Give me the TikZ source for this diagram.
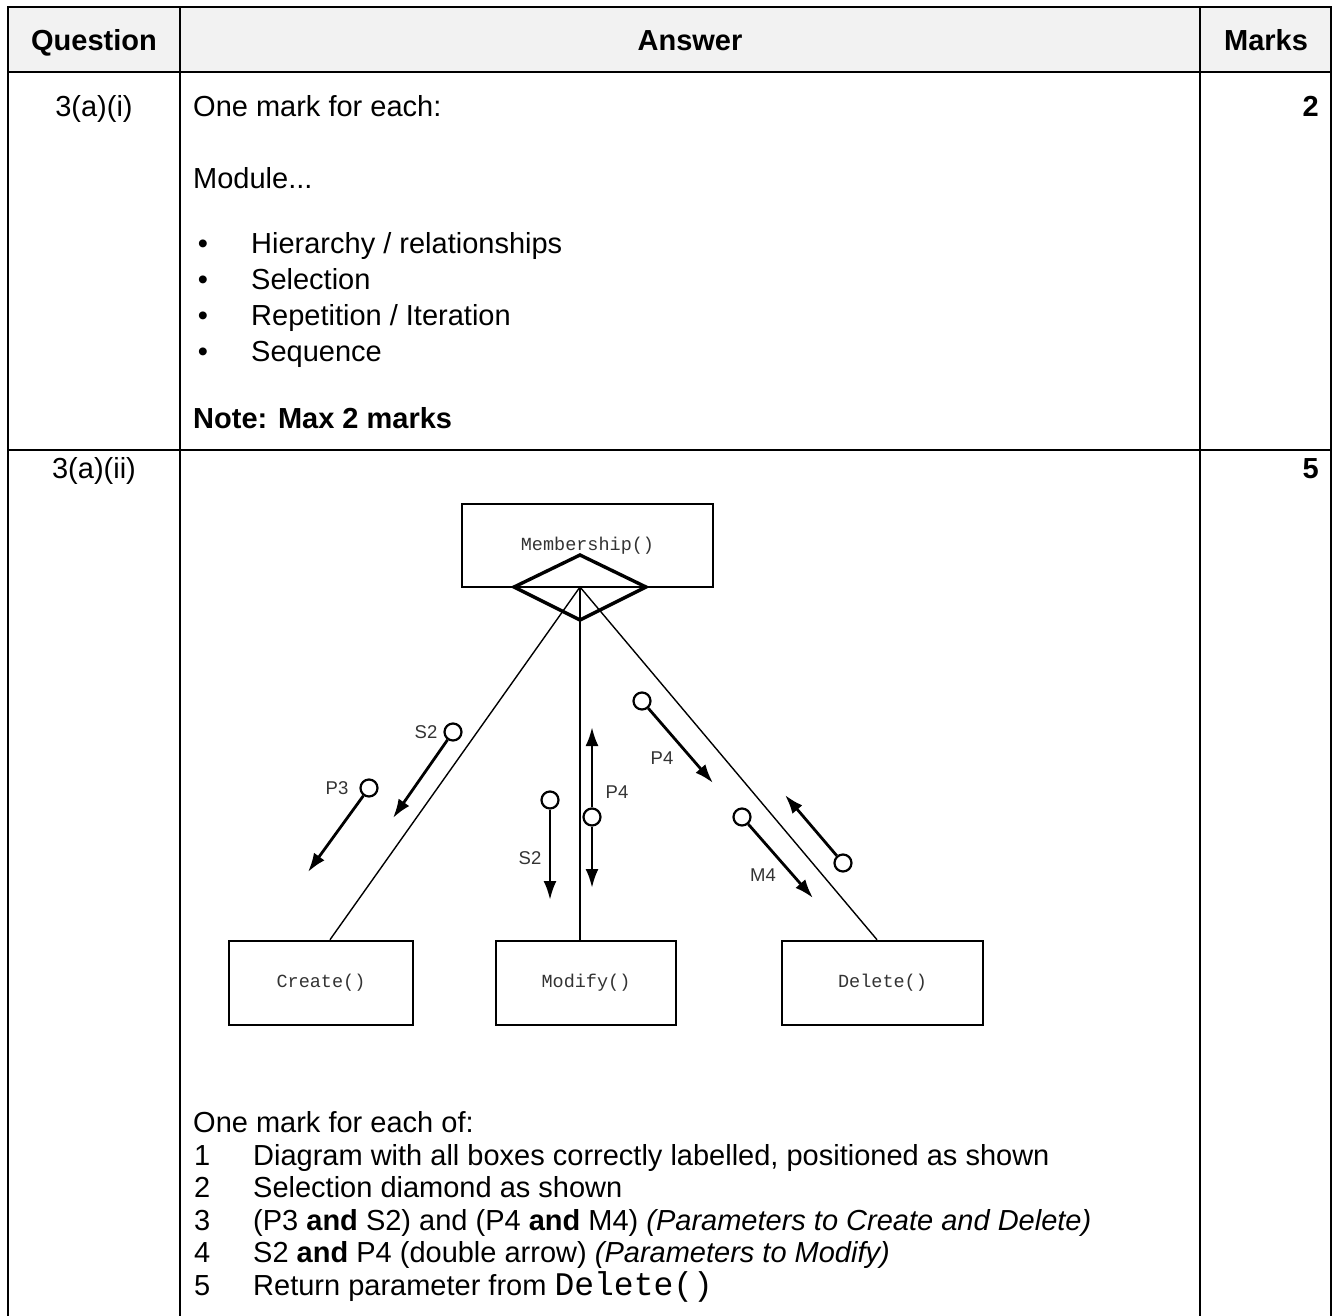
\documentclass[tikz,border=0pt]{standalone}
\usepackage{fontspec}
\setmainfont{Liberation Sans}
\setmonofont{Liberation Mono}
\usetikzlibrary{arrows.meta}
\definecolor{hdr}{HTML}{F2F2F2}
\definecolor{dtext}{HTML}{333333}
\begin{document}
\begin{tikzpicture}[x=1pt,y=-1pt,
  tbl/.style={line width=2pt,black},
  txt/.style={inner sep=0pt,anchor=base west,font=\fontsize{29}{34}\selectfont},
  ctxt/.style={inner sep=0pt,anchor=base,font=\fontsize{29}{34}\selectfont},
  btxt/.style={inner sep=0pt,anchor=base,font=\fontsize{29}{34}\selectfont\bfseries},
  dbox/.style={draw,line width=2.6pt,inner sep=0pt,font=\fontsize{18.5}{20}\selectfont\ttfamily,text=dtext},
  conn/.style={line width=1.4pt},
  diam/.style={line width=3.4pt,line join=miter},
  pcirc/.style={circle,draw,line width=2.2pt,minimum size=17pt,inner sep=0pt,fill=white},
  parr/.style={line width=2.8pt,-{Latex[length=19pt,width=13pt]}},
  plab/.style={inner sep=0pt,font=\fontsize{18.5}{20}\selectfont,text=dtext}]
\useasboundingbox (0,0) rectangle (1333,1316);
% table
\fill[hdr] (8,7) rectangle (1331,72);
\draw[tbl] (8,1317) -- (8,7) -- (1331,7) -- (1331,1317);
\draw[tbl] (8,72) -- (1331,72);
\draw[tbl] (8,450) -- (1331,450);
\draw[tbl] (180,7) -- (180,1317);
\draw[tbl] (1200,7) -- (1200,1317);
% header
\node[btxt] (hq) at (94,51) {Question};
\node[btxt] (ha) at (690,51) {Answer};
\node[btxt] (hm) at (1266,51) {Marks};
% row 1
\node[ctxt] (q1) at (94,117) {3(a)(i)};
\node[btxt,anchor=base east] (m1) at (1319,117) {2};
\node[txt] (r1a) at (193,117) {One mark for each:};
\node[txt] (r1b) at (193,189) {Module...};
\node[ctxt] (bul1) at (203,253) {\textbullet};
\node[txt] (bt1) at (251,253) {Hierarchy / relationships};
\node[ctxt] (bul2) at (203,289) {\textbullet};
\node[txt] (bt2) at (251,289) {Selection};
\node[ctxt] (bul3) at (203,325) {\textbullet};
\node[txt] (bt3) at (251,325) {Repetition / Iteration};
\node[ctxt] (bul4) at (203,361) {\textbullet};
\node[txt] (bt4) at (251,361) {Sequence};
\node[txt,font=\fontsize{29}{34}\selectfont\bfseries] (note) at (193,428) {Note: Max 2 marks};
% row 2
\node[ctxt] (q2) at (94,478) {3(a)(ii)};
\node[btxt,anchor=base east] (m2) at (1319,478) {5};
% diagram
\node[dbox,minimum width=251pt,minimum height=83pt] (mem) at (587.5,545.5) {Membership()};
\coordinate (dc) at (580,587);
\draw[diam] (580,555) -- (646,587) -- (580,620) -- (514,587) -- cycle;
\node[dbox,minimum width=184pt,minimum height=84pt] (cre) at (321,983) {Create()};
\node[dbox,minimum width=180pt,minimum height=84pt] (mod) at (586,983) {Modify()};
\node[dbox,minimum width=201pt,minimum height=84pt] (del) at (882.5,983) {Delete()};
\draw[conn] (dc) -- ([xshift=9pt]cre.north);
\draw[conn] (dc) -- ([xshift=-6pt]mod.north);
\draw[conn] (dc) -- ([xshift=-5.5pt]del.north);
% parameter arrows
\node[pcirc] (cS2) at (453,732) {};
\coordinate (tS2) at (393,818);
\draw[parr] (cS2) -- (tS2);
\node[plab] (lS2) at (426,732) {S2};
\node[pcirc] (cP3) at (369,788) {};
\coordinate (tP3) at (308,872);
\draw[parr] (cP3) -- (tP3);
\node[plab] (lP3) at (337,788) {P3};
\node[pcirc] (cmS2) at (550,800) {};
\coordinate (tmS2) at (550,900);
\draw[parr] (cmS2) -- (tmS2);
\node[plab] (lmS2) at (530,858) {S2};
\node[pcirc] (cmP4) at (592,817) {};
\coordinate (tmP4u) at (592,727);
\coordinate (tmP4d) at (592,888);
\draw[parr] (cmP4) -- (tmP4u);
\draw[parr] (cmP4) -- (tmP4d);
\node[plab] (lmP4) at (617,792) {P4};
\node[pcirc] (cdP4) at (642,701) {};
\coordinate (tdP4) at (713,783);
\draw[parr] (cdP4) -- (tdP4);
\node[plab] (ldP4) at (662,758) {P4};
\node[pcirc] (cM4) at (742,817) {};
\coordinate (tM4) at (813,898);
\draw[parr] (cM4) -- (tM4);
\node[plab] (lM4) at (763,875) {M4};
\node[pcirc] (cR) at (843,863) {};
\coordinate (tR) at (785,795);
\draw[parr] (cR) -- (tR);
% bottom list
\node[txt] (ol) at (193,1132) {One mark for each of:};
\node[txt] (n1) at (194,1165) {1};
\node[txt] (li1) at (253,1165) {Diagram with all boxes correctly labelled, positioned as shown};
\node[txt] (n2) at (194,1197) {2};
\node[txt] (li2) at (253,1197) {Selection diamond as shown};
\node[txt] (n3) at (194,1230) {3};
\node[txt] (li3) at (253,1230) {(P3 \textbf{and} S2) and (P4 \textbf{and} M4) \textit{(Parameters to Create and Delete)}};
\node[txt] (n4) at (194,1262) {4};
\node[txt] (li4) at (253,1262) {S2 \textbf{and} P4 (double arrow) \textit{(Parameters to Modify)}};
\node[txt] (n5) at (194,1295) {5};
\node[txt] (li5) at (253,1295) {Return parameter from {\fontsize{33}{34}\selectfont\ttfamily Delete()}};
\end{tikzpicture}
\end{document}
